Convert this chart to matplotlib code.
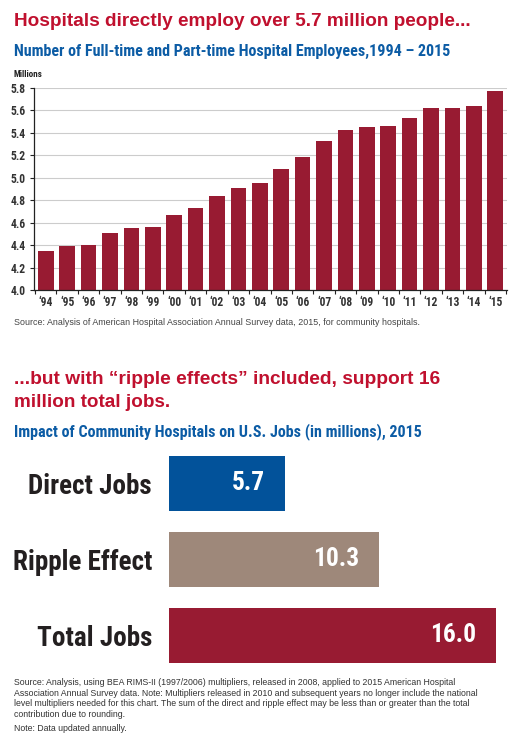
import matplotlib
matplotlib.use("Agg")
import matplotlib.pyplot as plt
import numpy as np
from matplotlib import font_manager as fm
from matplotlib.font_manager import FontProperties
from matplotlib.ticker import FixedLocator

# ---- data ----
years = ["‘94", "‘95", "‘96", "‘97", "‘98", "‘99", "‘00", "‘01", "‘02", "‘03", "‘04",
         "‘05", "‘06", "‘07", "‘08", "‘09", "‘10", "‘11", "‘12", "‘13", "‘14", "‘15"]
employees = [4.35, 4.39, 4.40, 4.51, 4.55, 4.56, 4.67, 4.73, 4.84, 4.91, 4.95,
             5.08, 5.18, 5.33, 5.42, 5.45, 5.46, 5.53, 5.62, 5.62, 5.64, 5.77]
y_ticks = [4.0, 4.2, 4.4, 4.6, 4.8, 5.0, 5.2, 5.4, 5.6, 5.8]

job_categories = ["Direct Jobs", "Ripple Effect", "Total Jobs"]
job_values = [5.7, 10.3, 16.0]
job_labels = ["5.7", "10.3", "16.0"]

RED = "#981B32"
TITLE_RED = "#C0102E"
BLUE = "#0C5CA5"
BAR_BLUE = "#02529A"
TAUPE = "#9E887A"


# ---- font selection: a condensed bold face if one is installed ----
def _weight(f):
    w = f.weight
    if isinstance(w, str):
        w = fm.weight_dict.get(w, 400)
    return w


def pick_condensed_bold():
    best = None
    best_score = None
    for f in fm.fontManager.ttflist:
        low = (f.fname + " " + f.name).lower()
        st = str(f.stretch).lower()
        cond = st in ("condensed", "semi-condensed", "extra-condensed") or "condensed" in low or "narrow" in low
        if not cond or f.style != "normal":
            continue
        if "extra" in low or "ultra" in low or "extra" in st:
            continue
        w = _weight(f)
        if w < 600:
            continue
        score = abs(w - 700)
        if "semi" in low or "semi" in st:
            score += 50
        for i, fam in enumerate(["roboto", "liberation", "dejavu", "noto sans", "open sans"]):
            if fam in low:
                score += i * 5
                break
        else:
            score += 40
        if best is None or score < best_score:
            best, best_score = f, score
    if best is not None:
        return FontProperties(fname=best.fname)
    return FontProperties(family=["Roboto", "DejaVu Sans"], weight="bold")


COND = pick_condensed_bold()
SANS_B = FontProperties(family=["Liberation Sans", "DejaVu Sans"], weight="bold")
SANS = FontProperties(family=["Liberation Sans", "DejaVu Sans"])

W, H = 530, 745
fig = plt.figure(figsize=(W / 100, H / 100), dpi=100)
fig.patch.set_facecolor("white")
renderer = fig.canvas.get_renderer()


def px(x, y):
    return x / W, 1 - y / H


def fit(txt, target_w):
    w = txt.get_window_extent(renderer).width
    if w > 0:
        txt.set_fontsize(txt.get_fontsize() * target_w / w)
    return txt


def ftext(x, y, s, fp, size, target_w=None, **kw):
    fx, fy = px(x, y)
    t = fig.text(fx, fy, s, va="baseline", ha=kw.pop("ha", "left"),
                 fontproperties=fp.copy(), **kw)
    t.set_fontsize(size)
    if target_w:
        fit(t, target_w)
    return t


# ---- titles ----
ftext(14, 26, "Hospitals directly employ over 5.7 million people...", SANS_B, 13.6, 459, color=TITLE_RED)
ftext(14, 56, "Number of Full-time and Part-time Hospital Employees,1994 – 2015", COND, 11, 434, color=BLUE)
ftext(14, 77, "Millions", COND, 7, 29, color="#222222")

# ---- top bar chart ----
l, b = px(34, 290)
_, t = px(0, 87.7)
ax = fig.add_axes([l, b, (507 - 34) / W, t - b])
x = np.arange(len(years))
ax.bar(x, employees, width=0.73, color=RED, zorder=3)
ax.set_ylim(4.0, 5.8)
ax.set_xlim(-0.55, len(years) - 0.45)
ax.yaxis.set_major_locator(FixedLocator(y_ticks))
ax.set_yticklabels([f"{v:.1f}" for v in y_ticks])
ax.set_xticks(x)
ax.set_xticklabels(years)
ax.set_xticks(np.arange(len(years) + 1) - 0.5, minor=True)
ax.tick_params(axis="x", which="major", length=0, pad=4)
ax.tick_params(axis="x", which="minor", length=3, width=0.8, direction="out", color="#222222")
ax.tick_params(axis="y", length=3, width=0.8, pad=3, color="#222222")
# size tick labels so that "5.8" is about 15 px wide
probe = fig.text(0, 0, "5.8", fontproperties=COND.copy())
probe.set_fontsize(8)
fit(probe, 15)
tick_size = probe.get_fontsize()
probe.remove()
for lab in ax.get_xticklabels() + ax.get_yticklabels():
    lab.set_fontproperties(COND.copy())
    lab.set_fontsize(tick_size)
    lab.set_color("#333333")
ax.grid(axis="y", color="#cccccc", linewidth=0.8, zorder=0)
for s in ["top", "right"]:
    ax.spines[s].set_visible(False)
for s in ["left", "bottom"]:
    ax.spines[s].set_linewidth(0.9)
    ax.spines[s].set_color("#222222")
    ax.spines[s].set_zorder(4)

ftext(14, 325, "Source: Analysis of American Hospital Association Annual Survey data, 2015, for community hospitals.",
      SANS, 6, 407, color="#444444")

# ---- second section titles ----
ftext(14, 384, "...but with “ripple effects” included, support 16", SANS_B, 13.6, 425, color=TITLE_RED)
ftext(14, 407, "million total jobs.", SANS_B, 13.6, None, color=TITLE_RED)
ftext(14, 436, "Impact of Community Hospitals on U.S. Jobs (in millions), 2015", COND, 11, 404, color=BLUE)

# ---- horizontal bar chart ----
l2, b2 = px(168.7, 662.7)
_, t2 = px(0, 456)
ax2 = fig.add_axes([l2, b2, (496 - 168.7) / W, t2 - b2])
yy = np.arange(len(job_categories))
colors = [BAR_BLUE, TAUPE, RED]
ax2.barh(yy, job_values, height=0.717, color=colors)
ax2.set_xlim(0, 16.0)
ax2.set_ylim(len(job_categories) - 1 + 0.3585, -0.3585)
ax2.set_yticks(yy)
ax2.set_yticklabels(job_categories)
ax2.set_xticks([])
ax2.tick_params(axis="y", length=0, pad=12)

probe = fig.text(0, 0, "Ripple Effect", fontproperties=COND.copy())
probe.set_fontsize(20)
fit(probe, 139)
cat_size = probe.get_fontsize()
probe.remove()
for lab in ax2.get_yticklabels():
    lab.set_fontproperties(COND.copy())
    lab.set_fontsize(cat_size)
    lab.set_color("#231F20")
for s in ax2.spines.values():
    s.set_visible(False)

probe = fig.text(0, 0, "10.3", fontproperties=COND.copy())
probe.set_fontsize(20)
fit(probe, 45.7)
val_size = probe.get_fontsize()
probe.remove()
for yi, v, lab in zip(yy, job_values, job_labels):
    a = ax2.annotate(lab, xy=(v, yi), xytext=(-20, 0), textcoords="offset pixels",
                     ha="right", va="center", color="white", fontproperties=COND.copy())
    a.set_fontsize(val_size)

# ---- bottom notes ----
notes = ["Source: Analysis, using BEA RIMS-II (1997/2006) multipliers, released in 2008, applied to 2015 American Hospital",
         "Association Annual Survey data. Note: Multipliers released in 2010 and subsequent years no longer include the national",
         "level multipliers needed for this chart. The sum of the direct and ripple effect may be less than or greater than the total",
         "contribution due to rounding."]
first = ftext(14, 685, notes[0], SANS, 6, 449, color="#333333")
note_size = first.get_fontsize()
for i, line in enumerate(notes[1:], start=1):
    ftext(14, 685 + i * 10.6, line, SANS, note_size, None, color="#333333")
ftext(14, 731, "Note: Data updated annually.", SANS, note_size, None, color="#333333")

fig.savefig("out.png", dpi=100, facecolor="white")
